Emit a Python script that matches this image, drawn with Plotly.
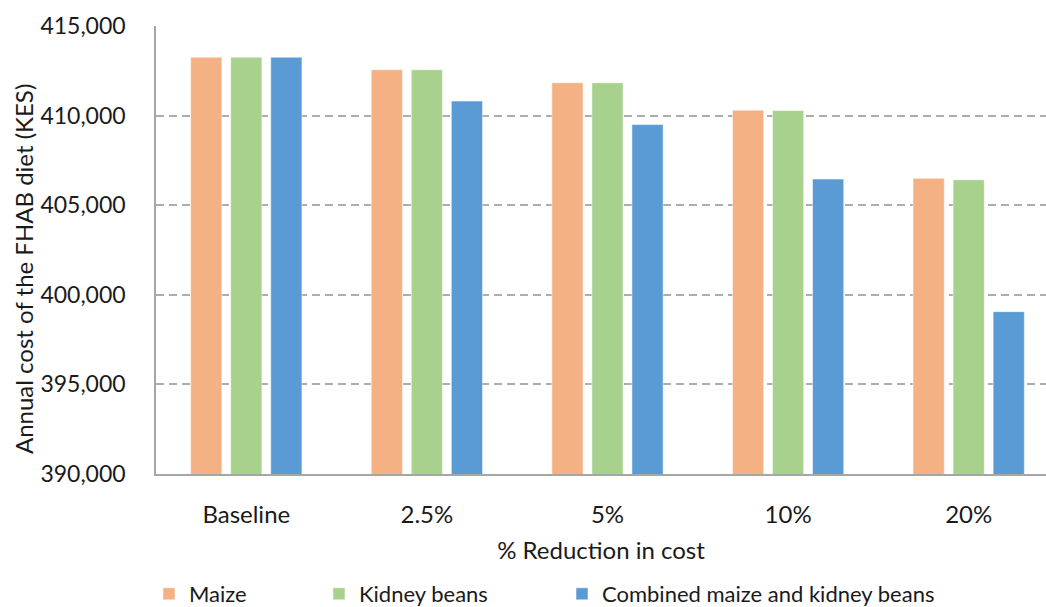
import plotly.graph_objects as go

categories = ["Baseline", "2.5%", "5%", "10%", "20%"]
maize = [413260, 412560, 411830, 410300, 406500]
kidney = [413260, 412560, 411830, 410280, 406420]
combined = [413260, 410810, 409500, 406460, 399060]
series_names = ["Maize", "Kidney beans", "Combined maize and kidney beans"]
colors = ["#F4B183", "#A9D18E", "#5B9BD5"]
y_ticks = [390000, 395000, 400000, 405000, 410000, 415000]

FONT = "Lato"
TXT = "#1a1a1a"
W, H = 1046, 607
fig = go.Figure()
legend_ids = ["legend", "legend2", "legend3"]
for name, vals, col, lg in zip(series_names, [maize, kidney, combined], colors, legend_ids):
    fig.add_trace(go.Bar(
        x=categories, y=vals, name=name, legend=lg, showlegend=True,
        marker=dict(color=col, line=dict(color="rgba(255,255,255,0.5)", width=1)),
    ))

leg_common = dict(orientation="h", yanchor="middle", y=1 - 594 / H, yref="container",
                  xanchor="left", xref="container",
                  font=dict(family=FONT, size=22, color=TXT),
                  bgcolor="rgba(0,0,0,0)", itemwidth=30)
fig.update_layout(
    showlegend=True,
    legend=dict(**leg_common, x=149 / W),
    legend2=dict(**leg_common, x=319 / W),
    legend3=dict(**leg_common, x=562 / W),
)

fig.update_layout(
    width=W, height=H,
    margin=dict(l=156, r=0, t=26, b=133, autoexpand=False),
    paper_bgcolor="white", plot_bgcolor="white",
    barmode="group", bargap=0.335, bargroupgap=0.22,
    font=dict(family=FONT, size=22, color=TXT),
    xaxis=dict(
        range=[-0.5, 4.428], showgrid=False, showline=True, linecolor="#A6A6A6", linewidth=1.5,
        ticks="", ticklabelstandoff=18, tickfont=dict(family=FONT, size=24, color=TXT),
        title=dict(text="% Reduction in cost", font=dict(family=FONT, size=24, color=TXT), standoff=16),
    ),
    yaxis=dict(
        range=[390000, 415000], tickvals=y_ticks, tickformat=",",
        showgrid=True, gridcolor="#ADADAD", gridwidth=1.5, griddash="8px,5px",
        showline=True, linecolor="#A6A6A6", linewidth=1.5, zeroline=False,
        ticks="", ticklabelstandoff=24, tickfont=dict(family=FONT, size=23, color=TXT),
    ),
    annotations=[dict(
        text="Annual cost of the FHAB diet (KES)", textangle=-90,
        xref="paper", yref="paper", x=(23 - 156) / (W - 156), y=1 - (269 - 26) / 448,
        xanchor="center", yanchor="middle", showarrow=False,
        font=dict(family=FONT, size=24, color=TXT),
    )],
)

fig.write_html("out.html")
